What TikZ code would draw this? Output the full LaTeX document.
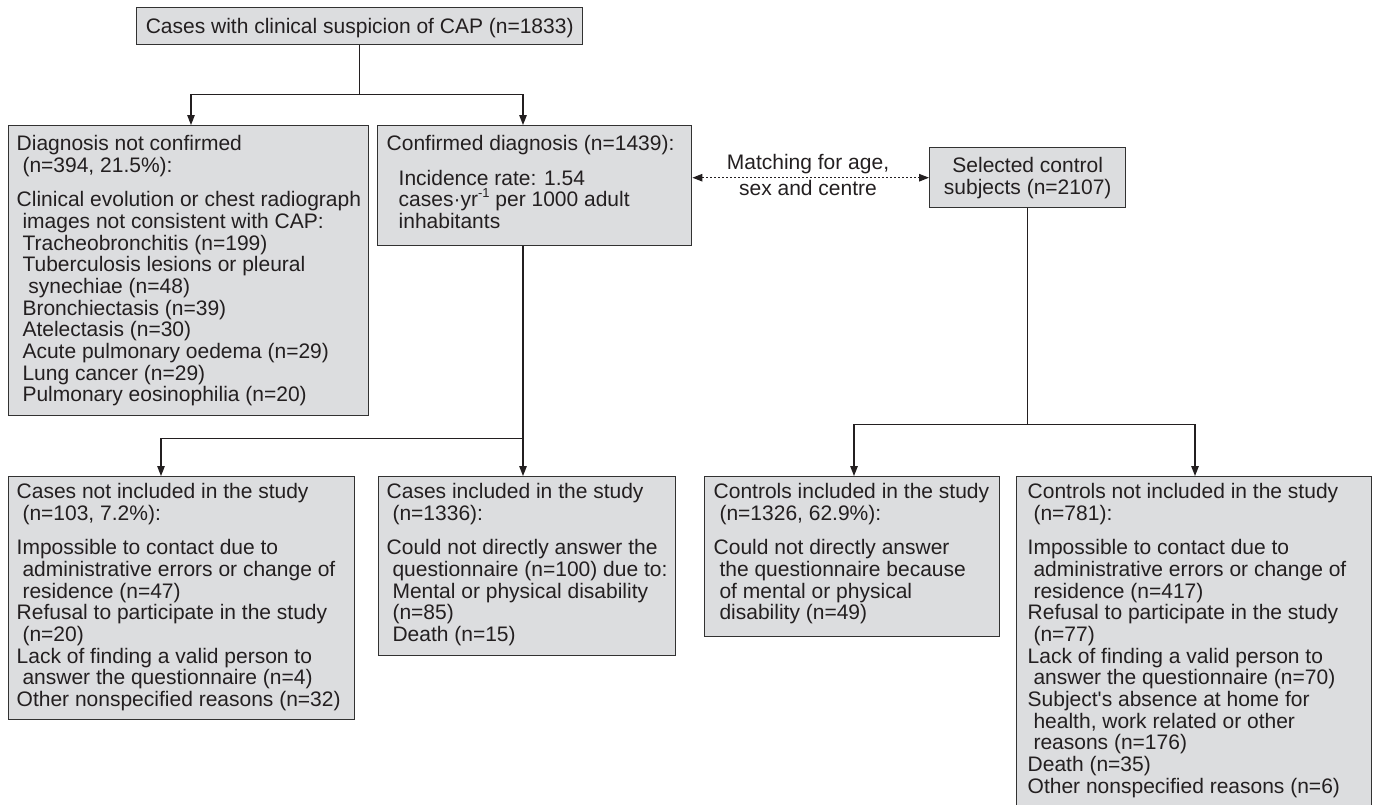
\documentclass[tikz,border=0pt]{standalone}
\usepackage{fontspec}
\setmainfont{Liberation Sans}
\usetikzlibrary{arrows.meta}
\definecolor{boxfill}{RGB}{220,221,223}
\definecolor{boxline}{RGB}{50,50,50}
\definecolor{ink}{RGB}{35,31,32}
\newcommand{\myind}{\hspace*{0.278em}}
\newcommand{\supm}{\smash{\raisebox{0.42em}{\fontsize{13}{13}\selectfont -1}}}
\newcommand{\boxl}[5]{\begin{minipage}[c][#2][t]{#1}\vspace*{#3}\leavevmode\hspace*{#4}\begin{tabular}[t]{@{}l@{}}#5\end{tabular}\end{minipage}}
\newcommand{\boxc}[4]{\begin{minipage}[c][#2][t]{#1}\centering\vspace*{#3}\leavevmode\begin{tabular}[t]{@{}c@{}}#4\end{tabular}\end{minipage}}
\begin{document}
\begin{tikzpicture}[x=1pt,y=-1pt,
  font=\fontsize{21}{21.5}\selectfont, text=ink,
  box/.style={draw=boxline, line width=1.4pt, fill=boxfill, inner sep=0pt, anchor=north west},
  conn/.style={draw=ink, line width=1.3pt},
  arr/.style={conn, -{Triangle[width=7.5pt,length=10pt]}},
  matcharr/.style={conn, dash pattern=on 1.6pt off 2.4pt, {Triangle[width=7.5pt,length=10pt]}-{Triangle[width=7.5pt,length=10pt]}}]
\useasboundingbox (0,0) rectangle (1373,804);
\clip (0,0) rectangle (1373,804);

\node[box] (top) at (136,7) {\boxc{446pt}{37pt}{11pt}{Cases with clinical suspicion of CAP (n=1833)}};

\node[box] (L1) at (8,125) {\boxl{360pt}{290pt}{10pt}{8pt}{%
Diagnosis not confirmed\\
\myind(n=394, 21.5\%):\\[12.5pt]
Clinical evolution or chest radiograph\\
\myind images not consistent with CAP:\\
\myind Tracheobronchitis (n=199)\\
\myind Tuberculosis lesions or pleural\\
\myind\myind synechiae (n=48)\\
\myind Bronchiectasis (n=39)\\
\myind Atelectasis (n=30)\\
\myind Acute pulmonary oedema (n=29)\\
\myind Lung cancer (n=29)\\
\myind Pulmonary eosinophilia (n=20)}};

\node[box] (M1) at (377,125) {\boxl{314pt}{120pt}{10pt}{9pt}{%
Confirmed diagnosis (n=1439):\\[12.5pt]
\hspace*{12pt}Incidence rate: 1.54\\
\hspace*{12pt}cases·yr\supm{} per 1000 adult\\
\hspace*{12pt}inhabitants}};

\node[box] (C) at (929,147) {\boxc{196pt}{60pt}{10pt}{Selected control\\subjects (n=2107)}};

\node[box] (L2) at (8,476) {\boxl{346pt}{243pt}{7pt}{8pt}{%
Cases not included in the study\\
\myind(n=103, 7.2\%):\\[12.5pt]
Impossible to contact due to\\
\myind administrative errors or change of\\
\myind residence (n=47)\\
Refusal to participate in the study\\
\myind(n=20)\\
Lack of finding a valid person to\\
\myind answer the questionnaire (n=4)\\
Other nonspecified reasons (n=32)}};

\node[box] (M2) at (378,476) {\boxl{297pt}{179pt}{7pt}{8pt}{%
Cases included in the study\\
\myind(n=1336):\\[12.5pt]
Could not directly answer the\\
\myind questionnaire (n=100) due to:\\
\myind Mental or physical disability\\
\myind(n=85)\\
\myind Death (n=15)}};

\node[box] (R2a) at (704,476) {\boxl{295pt}{160pt}{7pt}{9pt}{%
Controls included in the study\\
\myind(n=1326, 62.9\%):\\[12.5pt]
Could not directly answer\\
\myind the questionnaire because\\
\myind of mental or physical\\
\myind disability (n=49)}};

\node[box] (R2b) at (1016,476) {\boxl{355pt}{334pt}{7pt}{11pt}{%
Controls not included in the study\\
\myind(n=781):\\[12.5pt]
Impossible to contact due to\\
\myind administrative errors or change of\\
\myind residence (n=417)\\
Refusal to participate in the study\\
\myind(n=77)\\
Lack of finding a valid person to\\
\myind answer the questionnaire (n=70)\\
Subject\textquotesingle s absence at home for\\
\myind health, work related or other\\
\myind reasons (n=176)\\
Death (n=35)\\
Other nonspecified reasons (n=6)}};

% matching label
\node[anchor=base] (mt1) at (808,169) {Matching for age,};
\node[anchor=base] (mt2) at (808,195) {sex and centre};

% connectors
\draw[conn] (top.south) -- ++(0,49) coordinate (j1);
\draw[arr] (j1) -| ([xshift=183pt]L1.north west);
\draw[arr] (j1) -| ([xshift=146pt]M1.north west);

\draw[matcharr] (C.west -| M1.east) -- (C.west);

\draw[conn] ([xshift=146pt]M1.south west) -- ++(0,192) coordinate (j2);
\draw[arr] (j2) -- ([xshift=145pt]M2.north west);
\draw[arr] (j2) -| ([xshift=153pt]L2.north west);

\draw[conn] (C.south) -- ++(0,216) coordinate (j3);
\draw[arr] (j3) -| ([xshift=150pt]R2a.north west);
\draw[arr] (j3) -| ([xshift=179pt]R2b.north west);
\end{tikzpicture}
\end{document}
